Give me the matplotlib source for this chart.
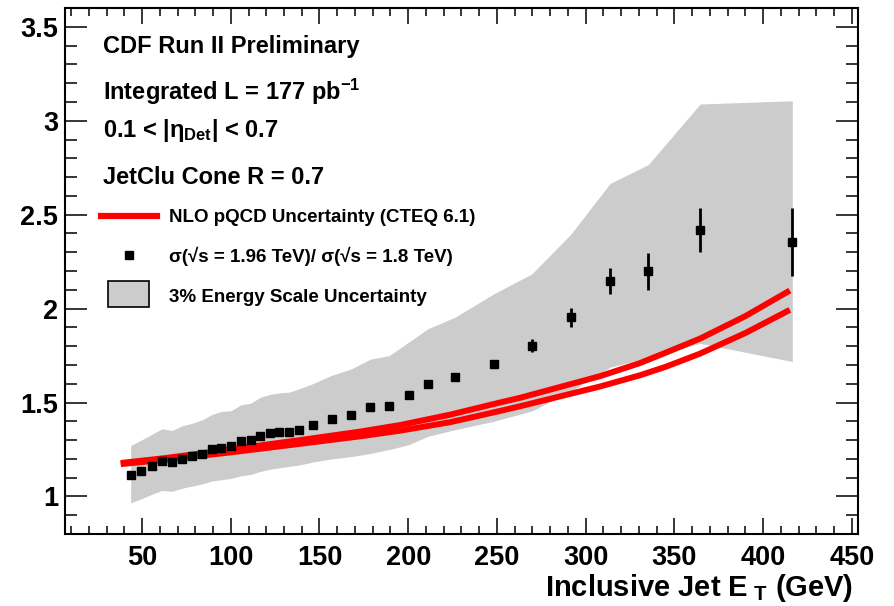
import matplotlib
matplotlib.use('Agg')
import matplotlib.pyplot as plt
from matplotlib.ticker import MultipleLocator, FuncFormatter
from matplotlib.patches import Rectangle
from matplotlib.lines import Line2D

plt.rcParams['font.family'] = ['Liberation Sans', 'DejaVu Sans']
plt.rcParams['font.weight'] = 'bold'
plt.rcParams['mathtext.fontset'] = 'custom'
plt.rcParams['mathtext.rm'] = 'Liberation Sans:bold'
plt.rcParams['mathtext.bf'] = 'Liberation Sans:bold'
plt.rcParams['mathtext.it'] = 'Liberation Sans:bold'
plt.rcParams['mathtext.sf'] = 'Liberation Sans:bold'

# ratio data points
et = [43.6, 49.6, 55.4, 61.3, 66.9, 72.7, 78.3, 84.0, 89.3, 94.7, 100.3,
      105.8, 111.2, 116.7, 122.1, 127.4, 132.8, 138.3, 146.2, 156.9, 167.7,
      178.5, 189.3, 200.2, 211.0, 226.3, 248.1, 269.7, 291.7, 313.7, 335.2,
      364.5, 416.4]
ratio = [1.112, 1.138, 1.160, 1.190, 1.181, 1.200, 1.213, 1.227, 1.250, 1.260,
         1.266, 1.293, 1.298, 1.324, 1.337, 1.344, 1.344, 1.356, 1.380, 1.410,
         1.436, 1.475, 1.480, 1.541, 1.597, 1.638, 1.706, 1.803, 1.954, 2.145,
         2.198, 2.418, 2.355]
ratio_err = [0.004, 0.004, 0.004, 0.004, 0.004, 0.004, 0.004, 0.004, 0.004,
             0.004, 0.004, 0.004, 0.004, 0.004, 0.004, 0.004, 0.004, 0.004,
             0.005, 0.005, 0.005, 0.006, 0.006, 0.007, 0.008, 0.010, 0.020,
             0.035, 0.050, 0.070, 0.098, 0.115, 0.180]

# 3% energy scale band
band_hi = [1.271, 1.300, 1.330, 1.360, 1.351, 1.376, 1.390, 1.408, 1.436, 1.452,
           1.457, 1.488, 1.496, 1.528, 1.543, 1.551, 1.555, 1.572, 1.600, 1.645,
           1.678, 1.730, 1.750, 1.821, 1.892, 1.954, 2.078, 2.185, 2.397, 2.666,
           2.766, 3.089, 3.106]
band_lo = [0.966, 0.988, 1.011, 1.032, 1.027, 1.044, 1.055, 1.067, 1.082, 1.089,
           1.096, 1.110, 1.117, 1.133, 1.145, 1.152, 1.160, 1.167, 1.183, 1.200,
           1.212, 1.228, 1.250, 1.275, 1.320, 1.355, 1.400, 1.455, 1.560, 1.688,
           1.740, 1.815, 1.718]

# NLO pQCD uncertainty curves
nlo_x = [38.0, 63.9, 101.3, 139.0, 172.8, 195.4, 223.5, 251.7, 263.0, 308.0,
         330.6, 345.0, 364.4, 390.0, 415.0]
nlo_hi = [1.178, 1.205, 1.252, 1.300, 1.345, 1.380, 1.435, 1.500, 1.525, 1.640,
          1.710, 1.765, 1.840, 1.960, 2.096]
nlo_lo = [1.172, 1.196, 1.236, 1.280, 1.320, 1.350, 1.395, 1.455, 1.480, 1.585,
          1.645, 1.690, 1.760, 1.870, 1.993]

fig = plt.figure(figsize=(8.94, 6.06), dpi=100)
ax = fig.add_axes([0.0727, 0.1188, 0.887, 0.868])

ax.fill_between(et, band_lo, band_hi, color='#cccccc', lw=0, zorder=1)
ax.plot(nlo_x, nlo_hi, color='red', lw=4.3, zorder=2, solid_capstyle='butt')
ax.plot(nlo_x, nlo_lo, color='red', lw=4.3, zorder=2, solid_capstyle='butt')
ax.errorbar(et, ratio, yerr=ratio_err, fmt='s', color='black', ms=5.2,
            elinewidth=2, capsize=0, zorder=3)

ax.set_xlim(6.6, 453.4)
ax.set_ylim(0.8, 3.6)
ax.xaxis.set_major_locator(MultipleLocator(50))
ax.xaxis.set_minor_locator(MultipleLocator(10))
ax.yaxis.set_major_locator(MultipleLocator(0.5))
ax.yaxis.set_minor_locator(MultipleLocator(0.1))
ax.yaxis.set_major_formatter(FuncFormatter(lambda v, p: '%g' % v))
ax.xaxis.set_major_formatter(FuncFormatter(lambda v, p: '%g' % v))

ax.tick_params(axis='both', which='both', direction='in', top=True, right=True,
               width=1.1, labelsize=19.5)
ax.tick_params(axis='x', which='major', length=11.5, pad=8)
ax.tick_params(axis='x', which='minor', length=5.8)
ax.tick_params(axis='y', which='major', length=15.8, pad=5)
ax.tick_params(axis='y', which='minor', length=8.6)
for s in ax.spines.values():
    s.set_linewidth(1.5)

ax.set_xlabel(r'Inclusive Jet E$_{\ \mathrm{T}}$ (GeV)', fontsize=21,
              fontweight='bold', loc='right')
ax.xaxis.set_label_coords(0.9937, -0.073)

tr = ax.transAxes
ax.text(0.0479, 0.9144, 'CDF Run II Preliminary', transform=tr, fontsize=17,
        va='baseline')
ax.text(0.0479, 0.825, r'Integrated L = 177 pb$^{\mathrm{-1}}$', transform=tr,
        fontsize=17, va='baseline')
ax.text(0.0479, 0.7547, r'0.1 < |$\eta_{\mathrm{Det}}$| < 0.7', transform=tr,
        fontsize=17, va='baseline')
ax.text(0.0479, 0.6654, 'JetClu Cone R = 0.7', transform=tr, fontsize=17,
        va='baseline')

# legend
ax.add_line(Line2D([0.0454, 0.1160], [0.6046, 0.6046], color='red', lw=4.5,
                   transform=tr))
ax.text(0.1311, 0.5932, 'NLO pQCD Uncertainty (CTEQ 6.1)', transform=tr,
        fontsize=13.5, va='baseline')
ax.plot([0.0807], [0.5304], 's', color='black', ms=5.2, transform=tr)
ax.text(0.1311, 0.5177, 'σ(√s = 1.96 TeV)/ σ(√s = 1.8 TeV)', transform=tr,
        fontsize=13.5, va='baseline')
ax.add_patch(Rectangle((0.0542, 0.4316), 0.0517, 0.0494, facecolor='#cccccc',
                       edgecolor='black', lw=1.2, transform=tr))
ax.text(0.1311, 0.4416, '3% Energy Scale Uncertainty', transform=tr,
        fontsize=13.5, va='baseline')

fig.savefig('out.png', dpi=100)
